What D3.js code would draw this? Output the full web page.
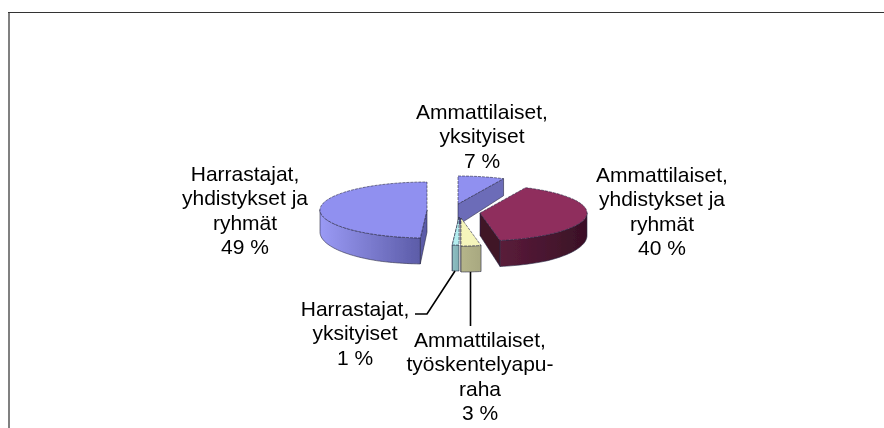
<!DOCTYPE html>
<html>
<head>
<meta charset="utf-8">
<script src="https://cdn.jsdelivr.net/npm/d3@7"></script>
<style>
body { margin: 0; background: #fff; }
text { font-family: "Liberation Sans", Arial, sans-serif; font-size: 21px; fill: #000; text-anchor: middle; }
</style>
</head>
<body>
<div id="chart"></div>
<script>
// shares in percent, clockwise from 12 o'clock
const values = [7, 40, 3, 1, 49];
const labelLines = [
    ['Ammattilaiset,', 'yksityiset', '7 %'],
    ['Ammattilaiset,', 'yhdistykset ja', 'ryhmät', '40 %'],
    ['Ammattilaiset,', 'työskentelyapu-', 'raha', '3 %'],
    ['Harrastajat,', 'yksityiset', '1 %'],
    ['Harrastajat,', 'yhdistykset ja', 'ryhmät', '49 %']
];
const topColors = ['#9090f0', '#8f2d5d', '#f5f5bb', '#b5eef0', '#9090f0'];
const wallStart = ['#6c6cb8', '#5a1c3a', '#b5b58a', '#8fc0c4', '#9a9af5'];
const wallEnd = ['#6c6cb8', '#3a1026', '#a8a880', '#80b0b4', '#5c5ca8'];
const cutColors = ['#6c6cb8', '#3f1228', '#a8a880', '#80b0b4', '#5c5ca8'];

const width = 884, height = 428;
const rx = 107, ry = 28;
// where each slice's tip sits after the explode
const apex = [[458, 204], [480, 213], [461, 218], [459, 217], [427, 210]];
const labelPos = [[482, 119], [662, 182], [480, 347], [355, 316], [245, 181]];
const lineStep = 24.4;

const svg = d3.select('#chart').append('svg')
    .attr('width', width)
    .attr('height', height)
    .style('display', 'block');

svg.append('path')
    .attr('d', 'M9 428V13')
    .attr('fill', 'none')
    .attr('stroke', '#808080')
    .attr('stroke-width', 2);
svg.append('path')
    .attr('d', 'M8 12.5H884')
    .attr('fill', 'none')
    .attr('stroke', '#333')
    .attr('stroke-width', 1);

const defs = svg.append('defs');
defs.append('filter').attr('id', 'soft')
    .append('feGaussianBlur').attr('stdDeviation', 0.45);
defs.append('filter').attr('id', 'softText')
    .append('feGaussianBlur').attr('stdDeviation', 0.25);

const pie = d3.pie().sort(null)(values);
// the depth shrinks toward the back
const depthScale = d3.scaleLinear().domain([178, 235]).range([17, 26]).clamp(true);
const down = p => [p[0], p[1] + depthScale(p[1])];
const rim = (i, a) => [apex[i][0] + rx * Math.sin(a), apex[i][1] - ry * Math.cos(a)];
const line = d3.line();

const slices = pie.map((d, i) => {
    const n = Math.max(12, Math.ceil((d.endAngle - d.startAngle) * 30));
    const angles = d3.range(n + 1).map(k => d.startAngle + (d.endAngle - d.startAngle) * k / n);
    return { i, angles, arcPts: angles.map(a => rim(i, a)) };
});

slices.forEach(s => {
    const g = defs.append('linearGradient')
        .attr('id', 'side' + s.i)
        .attr('x1', 0).attr('x2', 1).attr('y1', 0).attr('y2', 0);
    g.append('stop').attr('offset', 0).attr('stop-color', wallStart[s.i]);
    g.append('stop').attr('offset', 1).attr('stop-color', wallEnd[s.i]);
});

const marks = svg.append('g').attr('filter', 'url(#soft)');
const order = [0, 1, 4, 3, 2];

order.forEach(i => {
    const s = slices[i];
    const g = marks.append('g');
    const tip = apex[i];
    const first = s.arcPts[0], last = s.arcPts[s.arcPts.length - 1];

    // cut face toward the viewer
    const cut = i === 4 ? [tip, first] : [tip, last];
    g.append('path')
        .attr('d', line([cut[0], cut[1], down(cut[1]), down(cut[0])]) + 'Z')
        .attr('fill', cutColors[i])
        .attr('stroke', '#2a2a44')
        .attr('stroke-width', 0.6);

    // outer wall, only the part of the rim facing front
    const wall = s.arcPts.filter((p, k) => Math.cos(s.angles[k]) <= 0.02);
    if (wall.length > 1) {
        g.append('path')
            .attr('d', line(wall.concat(wall.map(down).reverse())) + 'Z')
            .attr('fill', 'url(#side' + i + ')')
            .attr('stroke', '#2a2a44')
            .attr('stroke-width', 0.6);
    }

    g.append('path')
        .attr('d', line([tip].concat(s.arcPts)) + 'Z')
        .attr('fill', topColors[i])
        .attr('stroke', '#2a2a44')
        .attr('stroke-width', 0.6)
        .attr('stroke-dasharray', '3 1');
});

const leaders = [
    [[455, 271], [427, 314], [415, 314]],
    [[470.5, 272], [470.5, 326]]
];
svg.selectAll('.leader')
    .data(leaders)
    .enter()
    .append('path')
    .attr('class', 'leader')
    .attr('d', d => line(d))
    .attr('fill', 'none')
    .attr('stroke', '#000')
    .attr('stroke-width', 1.6);

svg.append('g')
    .attr('filter', 'url(#softText)')
    .selectAll('.slice-label')
    .data(labelLines)
    .enter()
    .append('text')
    .attr('class', 'slice-label')
    .each(function (d, i) {
        d3.select(this).selectAll('tspan')
            .data(d)
            .enter()
            .append('tspan')
            .attr('x', labelPos[i][0])
            .attr('y', (t, k) => labelPos[i][1] + k * lineStep)
            .text(t => t);
    });
</script>
</body>
</html>
